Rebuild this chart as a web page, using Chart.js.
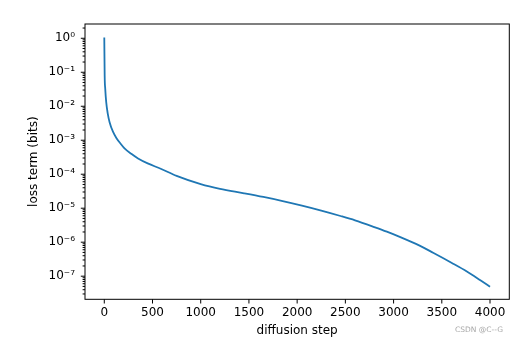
<!DOCTYPE html>
<html lang="en">
<head>
  <meta charset="UTF-8" />
  <title>loss term</title>
  <script src="https://cdn.jsdelivr.net/npm/chart.js"></script>
  <style>
    body {
      margin: 0;
      background: #fff;
    }
    #chart {
      display: block;
    }
  </style>
</head>
<body>
  <canvas id="chart" width="527" height="344"></canvas>

  <script>
    // diffusion step -> loss term (bits)
    const steps = [0, 4, 10, 20, 35, 55, 90, 125, 170, 210, 280, 350, 450, 585, 750,
      1000, 1200, 1450, 1650, 1850, 2050, 2250, 2450, 2600, 2800, 2930, 3070, 3270, 3410, 3600, 3760, 3900, 4000];
    const loss = [1.05, 7.9e-2, 3.2e-2, 1.32e-2, 6.3e-3, 3.4e-3, 1.78e-3, 1.17e-3, 7.9e-4, 5.75e-4, 4.0e-4,
      2.92e-4, 2.09e-4, 1.45e-4, 8.9e-5,
      5.1e-5, 3.7e-5, 2.75e-5, 2.14e-5, 1.62e-5, 1.19e-5, 8.5e-6, 5.9e-6, 4.4e-6, 2.79e-6, 2.04e-6,
      1.41e-6, 7.9e-7, 4.9e-7, 2.5e-7, 1.38e-7, 7.6e-8, 4.9e-8];
    const xTicks = [0, 500, 1000, 1500, 2000, 2500, 3000, 3500, 4000];
    const yDecades = [-8, -7, -6, -5, -4, -3, -2, -1, 0];

    const SUP = { "-": "\u207B", "0": "\u2070", "1": "\u00B9", "2": "\u00B2", "3": "\u00B3",
      "4": "\u2074", "5": "\u2075", "6": "\u2076", "7": "\u2077", "8": "\u2078", "9": "\u2079" };

    function isDecade(v) {
      const l = Math.log10(v);
      return Math.abs(l - Math.round(l)) < 1e-9;
    }

    Chart.defaults.font.family = "'DejaVu Sans', sans-serif";
    Chart.defaults.font.size = 12;
    Chart.defaults.color = "#000";

    // frame, tick marks and the watermark
    const decor = {
      id: "decor",
      afterDraw(chart) {
        const ctx = chart.ctx;
        const a = chart.chartArea;
        const xs = chart.scales.x;
        const ys = chart.scales.y;
        ctx.save();
        ctx.strokeStyle = "#000";
        ctx.lineWidth = 1;
        ctx.strokeRect(a.left, a.top, a.right - a.left, a.bottom - a.top);
        ctx.beginPath();
        ys.ticks.forEach(t => {
          const y = ys.getPixelForValue(t.value);
          const len = isDecade(t.value) ? 4.2 : 2.4;
          ctx.moveTo(a.left - len, y);
          ctx.lineTo(a.left, y);
        });
        xs.ticks.forEach(t => {
          const x = xs.getPixelForValue(t.value);
          ctx.moveTo(x, a.bottom);
          ctx.lineTo(x, a.bottom + 4.2);
        });
        ctx.stroke();
        ctx.fillStyle = "#a8a8a8";
        ctx.font = "7.5px 'DejaVu Sans', sans-serif";
        ctx.textAlign = "right";
        ctx.textBaseline = "middle";
        ctx.fillText("CSDN @C--G", 503, 330);
        ctx.restore();
      }
    };

    new Chart(document.getElementById("chart"), {
      type: "line",
      data: {
        datasets: [{
          data: steps.map((s, i) => ({ x: s, y: loss[i] })),
          borderColor: "#1f77b4",
          borderWidth: 1.8,
          pointRadius: 0,
          fill: false,
          cubicInterpolationMode: "monotone"
        }]
      },
      options: {
        responsive: false,
        animation: false,
        devicePixelRatio: 1,
        layout: { padding: { top: 24, right: 17.7, left: 0, bottom: 0 } },
        plugins: {
          legend: { display: false },
          tooltip: { enabled: false }
        },
        scales: {
          x: {
            type: "linear",
            min: -200,
            max: 4200,
            grid: { display: false, drawTicks: false },
            border: { display: false },
            afterBuildTicks: s => { s.ticks = xTicks.map(v => ({ value: v })); },
            afterFit: s => { s.height = 44.7; },
            ticks: { padding: 6.8, autoSkip: false, maxRotation: 0, callback: v => String(v) },
            title: { display: true, text: "diffusion step", padding: { top: 0, bottom: 6.1 } }
          },
          y: {
            type: "logarithmic",
            min: Math.pow(10, -7.68),
            max: Math.pow(10, 0.42),
            grid: { display: false, drawTicks: false },
            border: { display: false },
            afterBuildTicks: s => {
              const t = [];
              yDecades.forEach(k => {
                for (let m = 1; m <= 9; m++) {
                  const v = m * Math.pow(10, k);
                  if (v >= s.min && v <= s.max) t.push({ value: v });
                }
              });
              s.ticks = t;
            },
            afterFit: s => { s.width = 85; },
            ticks: {
              padding: 10,
              autoSkip: false,
              callback: v => {
                if (!isDecade(v)) return "";
                const e = String(Math.round(Math.log10(v)));
                return "10" + e.split("").map(c => SUP[c]).join("");
              }
            },
            title: { display: true, text: "loss term (bits)", padding: { top: 26.8, bottom: 0 } }
          }
        }
      },
      plugins: [decor]
    });
  </script>
</body>
</html>
